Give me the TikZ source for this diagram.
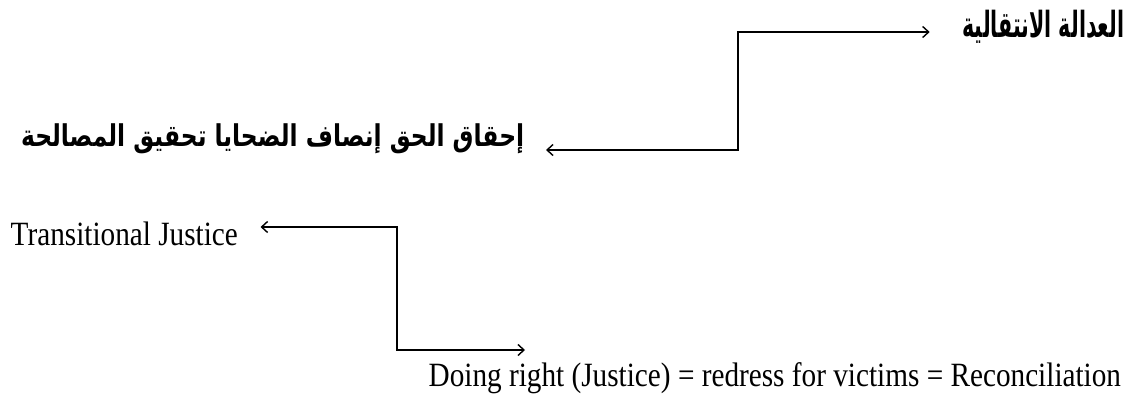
\documentclass[tikz,border=0pt]{standalone}
\usepackage{fontspec}
\setmainfont[FakeStretch=0.86]{Liberation Serif}
\newfontfamily\arfont[Script=Arabic,FakeStretch=0.78]{DejaVu Sans}
\newfontfamily\arfontT[Script=Arabic,FakeStretch=0.57]{DejaVu Sans}
\TeXXeTstate=1
\usetikzlibrary{arrows.meta}

\begin{document}
\begin{tikzpicture}[x=1pt,y=1pt,>={Straight Barb[length=6pt,width=11pt]},line width=1.4pt,
                    ar node/.style={font=\arfont\bfseries\fontsize{30}{34}\selectfont,inner sep=0pt},
                    ar title/.style={font=\arfontT\bfseries\fontsize{36}{40}\selectfont,inner sep=0pt},
                    en node/.style={font=\fontsize{34}{38}\selectfont,inner sep=0pt}]
  \useasboundingbox (0,0) rectangle (1135,-399);
  % arabic part
  \node[ar title,anchor=base east] (arT) at (1125,-37) {\beginR العدالة الانتقالية\endR};
  \node[ar node,anchor=base east] (arB) at (525,-146) {\beginR إحقاق الحق إنصاف الضحايا تحقيق المصالحة\endR};
  % english part
  \node[en node,anchor=west] (tj) at (10,-234) {Transitional Justice};
  \node[en node,anchor=west] (dr) at (428,-378) {Doing right (Justice) = redress for victims = Reconciliation};
  \coordinate (k1) at (738,-150);
  \coordinate (k2) at (397,-227);
  \draw[<->] ([shift={(21,-4)}]arB.base east) -- (k1) |- ([shift={(-32,5)}]arT.base west);
  \draw[<->] ([shift={(22,7)}]tj.east) -- (k2) |- (525,-350);
\end{tikzpicture}
\end{document}
